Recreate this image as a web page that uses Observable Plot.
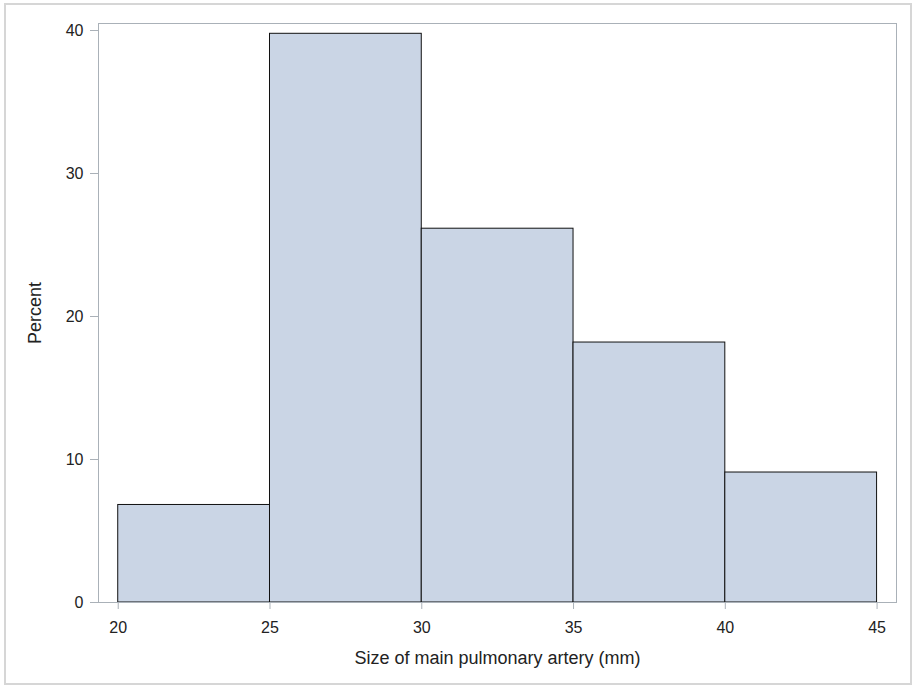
<!DOCTYPE html>
<html>
<head>
<meta charset="utf-8">
<script src="https://cdn.jsdelivr.net/npm/d3@7"></script>
<script src="https://cdn.jsdelivr.net/npm/@observablehq/plot@0.6"></script>
<style>
  html, body { margin: 0; padding: 0; background: #fff; }
  #wrap { position: relative; width: 913px; height: 687px; }
  #border { position: absolute; left: 4px; top: 3px; width: 908px; height: 682px;
            box-sizing: border-box; border: 2px solid #d6d6d6; pointer-events: none; }
</style>
</head>
<body>
<div id="wrap"><div id="border"></div></div>
<script>
// Histogram bins (mm) and percent per bin
const binStart = [20, 25, 30, 35, 40];
const binEnd   = [25, 30, 35, 40, 45];
const percent  = [6.82, 39.77, 26.14, 18.18, 9.09];
const xTicks = [20, 25, 30, 35, 40, 45];
const yTicks = [0, 10, 20, 30, 40];
const xLabel = "Size of main pulmonary artery (mm)";
const yLabel = "Percent";

const bins = binStart.map((s, i) => ({x1: s, x2: binEnd[i], y: percent[i]}));

const frameColor = "#aab1b8";
const textColor = "#222";

const chart = Plot.plot({
  width: 913,
  height: 687,
  marginLeft: 98,
  marginRight: 17,
  marginTop: 23,
  marginBottom: 85,
  style: {fontFamily: "Liberation Sans, Arial, sans-serif", fontSize: "16px", color: textColor, background: "transparent"},
  x: {domain: [19.35, 45.64]},
  y: {domain: [0, 40.49]},
  marks: [
    Plot.rectY(bins, {x1: "x1", x2: "x2", y: "y", fill: "#cad5e5", stroke: "#111", strokeWidth: 1}),
    Plot.frame({stroke: frameColor, strokeWidth: 1}),
    Plot.axisX({ticks: xTicks, tickSize: 7, tickPadding: 12, stroke: frameColor, fill: textColor, label: null, fontSize: 16}),
    Plot.axisY({ticks: yTicks, tickSize: 8, tickPadding: 7, stroke: frameColor, fill: textColor, label: null, fontSize: 16}),
    Plot.text([xLabel], {frameAnchor: "bottom", lineAnchor: "bottom", dy: 61, fontSize: 18, fill: textColor}),
    Plot.text([yLabel], {frameAnchor: "left", textAnchor: "middle", lineAnchor: "middle", rotate: -90, dx: -63, fontSize: 18, fill: textColor})
  ]
});
document.getElementById("wrap").insertBefore(chart, document.getElementById("border"));
</script>
</body>
</html>
